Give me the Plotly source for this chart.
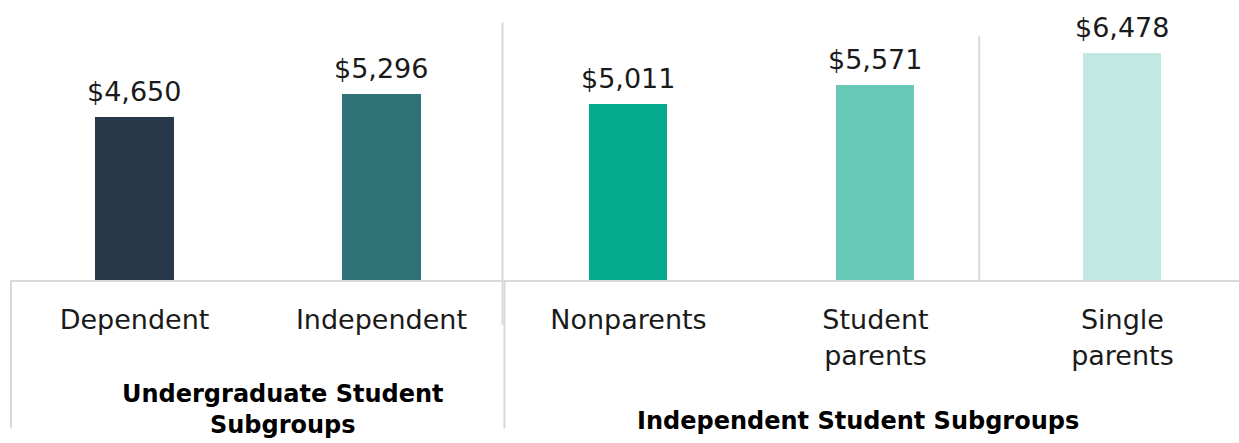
import plotly.graph_objects as go

categories = ["Dependent", "Independent", "Nonparents", "Student parents", "Single parents"]
tick_labels = ["Dependent", "Independent", "Nonparents", "Student<br>parents", "Single<br>parents"]
values = [4650, 5296, 5011, 5571, 6478]
colors = ["#28384a", "#2e7278", "#05a98e", "#69c9b8", "#c2e9e1"]
group_labels = ["<b>Undergraduate Student<br>Subgroups</b>", "<b>Independent Student Subgroups</b>"]

FONT = "DejaVu Sans"

fig = go.Figure()
fig.add_trace(go.Bar(
    x=categories, y=values,
    marker=dict(color=colors, line=dict(width=0)),
    width=0.316,
    showlegend=False,
))

for c, v in zip(categories, values):
    fig.add_annotation(x=c, y=v, text=f"${v:,}", showarrow=False,
                       xanchor="center", yanchor="bottom", yshift=8,
                       font=dict(family=FONT, size=27, color="#1a1a1a"))

line_style = dict(color="#d9d9d9", width=2)
# separators (multi-level category axis look)
fig.add_shape(type="line", xref="x", yref="paper", x0=1.49, x1=1.49, y0=-0.16, y1=0.92, line=line_style)
fig.add_shape(type="line", xref="x", yref="paper", x0=1.498, x1=1.498, y0=0.0, y1=-0.53, line=line_style)
fig.add_shape(type="line", xref="x", yref="paper", x0=3.42, x1=3.42, y0=0.0, y1=0.87, line=line_style)
fig.add_shape(type="line", xref="paper", yref="paper", x0=0.0, x1=0.0, y0=0.0, y1=-0.53, line=line_style)

fig.add_annotation(text=group_labels[0], xref="x", yref="paper", x=0.6, y=-0.35,
                   xanchor="center", yanchor="top", showarrow=False,
                   font=dict(family=FONT, size=24, color="#000000"))
fig.add_annotation(text=group_labels[1], xref="x", yref="paper", x=2.93, y=-0.446,
                   xanchor="center", yanchor="top", showarrow=False,
                   font=dict(family=FONT, size=24, color="#000000"))

fig.update_layout(
    width=1239, height=443,
    margin=dict(l=11, r=0, t=0, b=163),
    plot_bgcolor="white", paper_bgcolor="white",
    bargap=0,
    xaxis=dict(
        type="category",
        tickmode="array", tickvals=categories, ticktext=tick_labels,
        range=[-0.5, 4.472],
        showline=True, linecolor="#d9d9d9", linewidth=2,
        showgrid=False, ticks="", ticklabelstandoff=15,
        tickfont=dict(family=FONT, size=27, color="#1a1a1a"),
    ),
    yaxis=dict(range=[0, 7990], visible=False, showgrid=False),
)

fig.write_html("out.html")
